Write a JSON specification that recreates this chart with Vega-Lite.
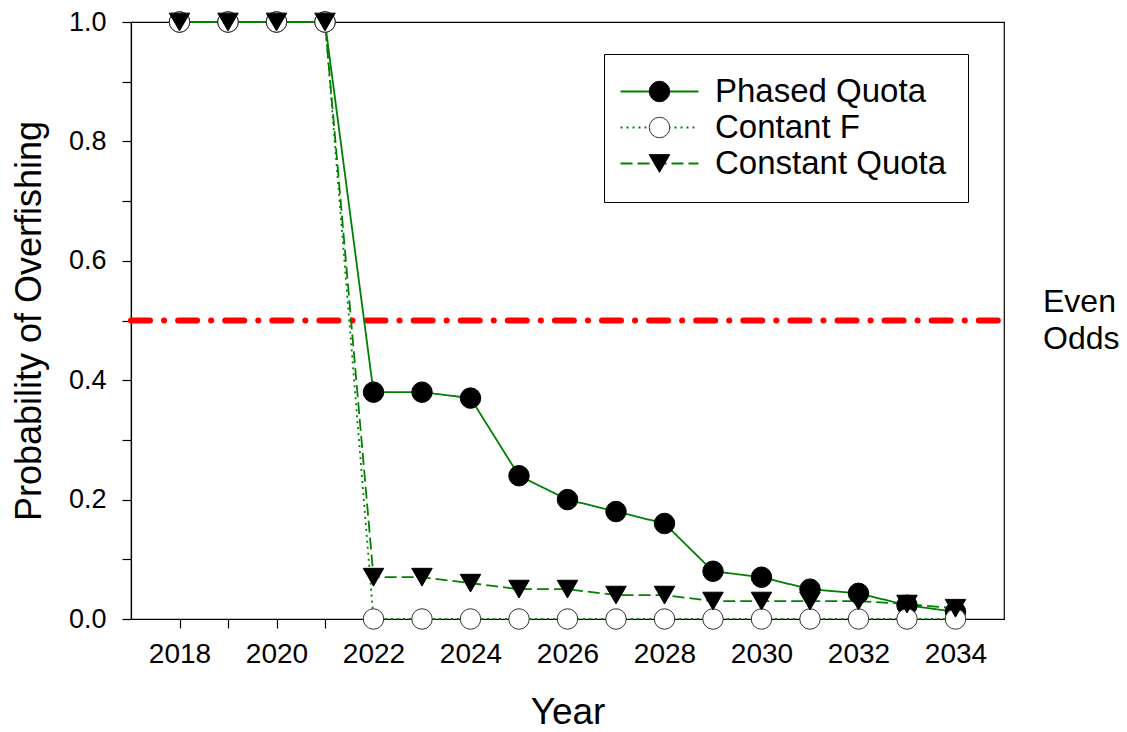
{
  "$schema": "https://vega.github.io/schema/vega-lite/v6.json",
  "width": 873,
  "height": 597,
  "autosize": "none",
  "padding": {"left": 131, "top": 22, "right": 123, "bottom": 113},
  "background": "white",
  "config": {
    "font": "Liberation Sans",
    "view": {"stroke": "black", "strokeWidth": 1.2},
    "axis": {
      "grid": false,
      "domainColor": "black",
      "tickColor": "black",
      "labelColor": "black",
      "titleColor": "black",
      "labelFont": "Liberation Sans",
      "titleFont": "Liberation Sans",
      "titleFontWeight": "normal",
      "tickSize": 9,
      "tickWidth": 1.2,
      "domainWidth": 1.2
    }
  },
  "datasets": {
    "probs": [
      {"year": 2018, "series": "Phased Quota", "value": 1.0},
      {"year": 2019, "series": "Phased Quota", "value": 1.0},
      {"year": 2020, "series": "Phased Quota", "value": 1.0},
      {"year": 2021, "series": "Phased Quota", "value": 1.0},
      {"year": 2022, "series": "Phased Quota", "value": 0.38},
      {"year": 2023, "series": "Phased Quota", "value": 0.38},
      {"year": 2024, "series": "Phased Quota", "value": 0.37},
      {"year": 2025, "series": "Phased Quota", "value": 0.24},
      {"year": 2026, "series": "Phased Quota", "value": 0.2},
      {"year": 2027, "series": "Phased Quota", "value": 0.18},
      {"year": 2028, "series": "Phased Quota", "value": 0.16},
      {"year": 2029, "series": "Phased Quota", "value": 0.08},
      {"year": 2030, "series": "Phased Quota", "value": 0.07},
      {"year": 2031, "series": "Phased Quota", "value": 0.05},
      {"year": 2032, "series": "Phased Quota", "value": 0.043},
      {"year": 2033, "series": "Phased Quota", "value": 0.023},
      {"year": 2034, "series": "Phased Quota", "value": 0.012},
      {"year": 2018, "series": "Contant F", "value": 1.0},
      {"year": 2019, "series": "Contant F", "value": 1.0},
      {"year": 2020, "series": "Contant F", "value": 1.0},
      {"year": 2021, "series": "Contant F", "value": 1.0},
      {"year": 2022, "series": "Contant F", "value": 0.0},
      {"year": 2023, "series": "Contant F", "value": 0.0},
      {"year": 2024, "series": "Contant F", "value": 0.0},
      {"year": 2025, "series": "Contant F", "value": 0.0},
      {"year": 2026, "series": "Contant F", "value": 0.0},
      {"year": 2027, "series": "Contant F", "value": 0.0},
      {"year": 2028, "series": "Contant F", "value": 0.0},
      {"year": 2029, "series": "Contant F", "value": 0.0},
      {"year": 2030, "series": "Contant F", "value": 0.0},
      {"year": 2031, "series": "Contant F", "value": 0.0},
      {"year": 2032, "series": "Contant F", "value": 0.0},
      {"year": 2033, "series": "Contant F", "value": 0.0},
      {"year": 2034, "series": "Contant F", "value": 0.0},
      {"year": 2018, "series": "Constant Quota", "value": 1.0},
      {"year": 2019, "series": "Constant Quota", "value": 1.0},
      {"year": 2020, "series": "Constant Quota", "value": 1.0},
      {"year": 2021, "series": "Constant Quota", "value": 1.0},
      {"year": 2022, "series": "Constant Quota", "value": 0.07},
      {"year": 2023, "series": "Constant Quota", "value": 0.07},
      {"year": 2024, "series": "Constant Quota", "value": 0.06},
      {"year": 2025, "series": "Constant Quota", "value": 0.05},
      {"year": 2026, "series": "Constant Quota", "value": 0.05},
      {"year": 2027, "series": "Constant Quota", "value": 0.04},
      {"year": 2028, "series": "Constant Quota", "value": 0.04},
      {"year": 2029, "series": "Constant Quota", "value": 0.03},
      {"year": 2030, "series": "Constant Quota", "value": 0.03},
      {"year": 2031, "series": "Constant Quota", "value": 0.03},
      {"year": 2032, "series": "Constant Quota", "value": 0.03},
      {"year": 2033, "series": "Constant Quota", "value": 0.025},
      {"year": 2034, "series": "Constant Quota", "value": 0.018}
    ]
  },
  "layer": [
    {
      "data": {"values": [{"note": "Even Odds", "level": 0.5, "start": 2017, "end": 2035}]},
      "mark": {"type": "rule", "color": "#ff0000", "strokeWidth": 6, "strokeDash": [19, 14, 0.1, 14], "strokeCap": "round"},
      "encoding": {
        "x": {
          "field": "start",
          "type": "quantitative",
          "scale": {"domain": [2017, 2035], "nice": false, "zero": false},
          "axis": {
            "title": "Year",
            "titleFontSize": 37,
            "titlePadding": 26,
            "labelFontSize": 28,
            "values": [2018, 2019, 2020, 2021, 2022, 2023, 2024, 2025, 2026, 2027, 2028, 2029, 2030, 2031, 2032, 2033, 2034],
            "labelExpr": "datum.value % 2 == 0 ? format(datum.value, 'd') : ''",
            "labelOverlap": false,
            "labelPadding": 12,
            "encode": {"ticks": {"update": {"y2": {"signal": "datum.value % 2 == 0 ? 9 : 5"}}}}
          }
        },
        "x2": {"field": "end"},
        "y": {
          "field": "level",
          "type": "quantitative",
          "scale": {"domain": [0, 1], "nice": false},
          "axis": {
            "title": "Probability of Overfishing",
            "titleFontSize": 36,
            "titlePadding": 20,
            "labelFontSize": 27,
            "values": [0, 0.1, 0.2, 0.3, 0.4, 0.5, 0.6, 0.7, 0.8, 0.9, 1.0],
            "labelExpr": "round(datum.value * 10) % 2 == 0 ? format(datum.value, '.1f') : ''",
            "labelOverlap": false,
            "labelPadding": 16,
            "encode": {"ticks": {"update": {"x2": {"signal": "round(datum.value * 10) % 2 == 0 ? -9 : -5"}}}}
          }
        }
      }
    },
    {
      "data": {"values": [{"note": "Even Odds", "level": 0.5, "start": 2017, "end": 2035}]},
      "mark": {"type": "text", "align": "left", "baseline": "middle", "dx": 39, "dy": -19, "fontSize": 32, "lineHeight": 37, "color": "black", "text": ["Even", "Odds"]},
      "encoding": {
        "x": {"field": "end", "type": "quantitative"},
        "y": {"field": "level", "type": "quantitative"}
      }
    },
    {
      "data": {"name": "probs"},
      "mark": {"type": "line", "color": "#008000", "strokeWidth": 1.8},
      "encoding": {
        "x": {"field": "year", "type": "quantitative"},
        "y": {"field": "value", "type": "quantitative"},
        "strokeDash": {
          "field": "series",
          "type": "nominal",
          "scale": {"domain": ["Phased Quota", "Contant F", "Constant Quota"], "range": [[1, 0], [2, 4], [12, 5]]},
          "legend": {
            "title": null,
            "orient": "none",
            "legendX": 473,
            "legendY": 32,
            "padding": 21,
            "strokeColor": "black",
            "fillColor": "white",
            "symbolType": "M-2.1,0H5.7",
            "symbolStrokeColor": "#008000",
            "symbolStrokeWidth": 2,
            "symbolSize": 400,
            "labelFontSize": 33,
            "labelColor": "black",
            "labelOffset": 57,
            "rowPadding": 2,
            "labelLimit": 400
          }
        }
      }
    },
    {
      "data": {"name": "probs"},
      "mark": {"type": "point", "filled": true, "size": 420, "strokeWidth": 1, "opacity": 1},
      "encoding": {
        "x": {"field": "year", "type": "quantitative"},
        "y": {"field": "value", "type": "quantitative"},
        "shape": {
          "field": "series",
          "type": "nominal",
          "sort": "descending",
          "scale": {"range": ["circle", "circle", "triangle-down"]},
          "legend": {
            "title": null,
            "orient": "none",
            "legendX": 491,
            "legendY": 32,
            "padding": 21,
            "symbolSize": 420,
            "symbolStrokeWidth": 1,
            "symbolOpacity": 1,
            "labelFontSize": 33,
            "labelExpr": "''",
            "labelOpacity": 0,
            "rowPadding": 2,
            "labelLimit": 400
          }
        },
        "fill": {
          "field": "series",
          "type": "nominal",
          "sort": "descending",
          "scale": {"range": ["black", "white", "black"]}
        },
        "stroke": {
          "field": "series",
          "type": "nominal",
          "sort": "descending",
          "scale": {"range": ["black", "#333333", "black"]}
        }
      }
    }
  ]
}
